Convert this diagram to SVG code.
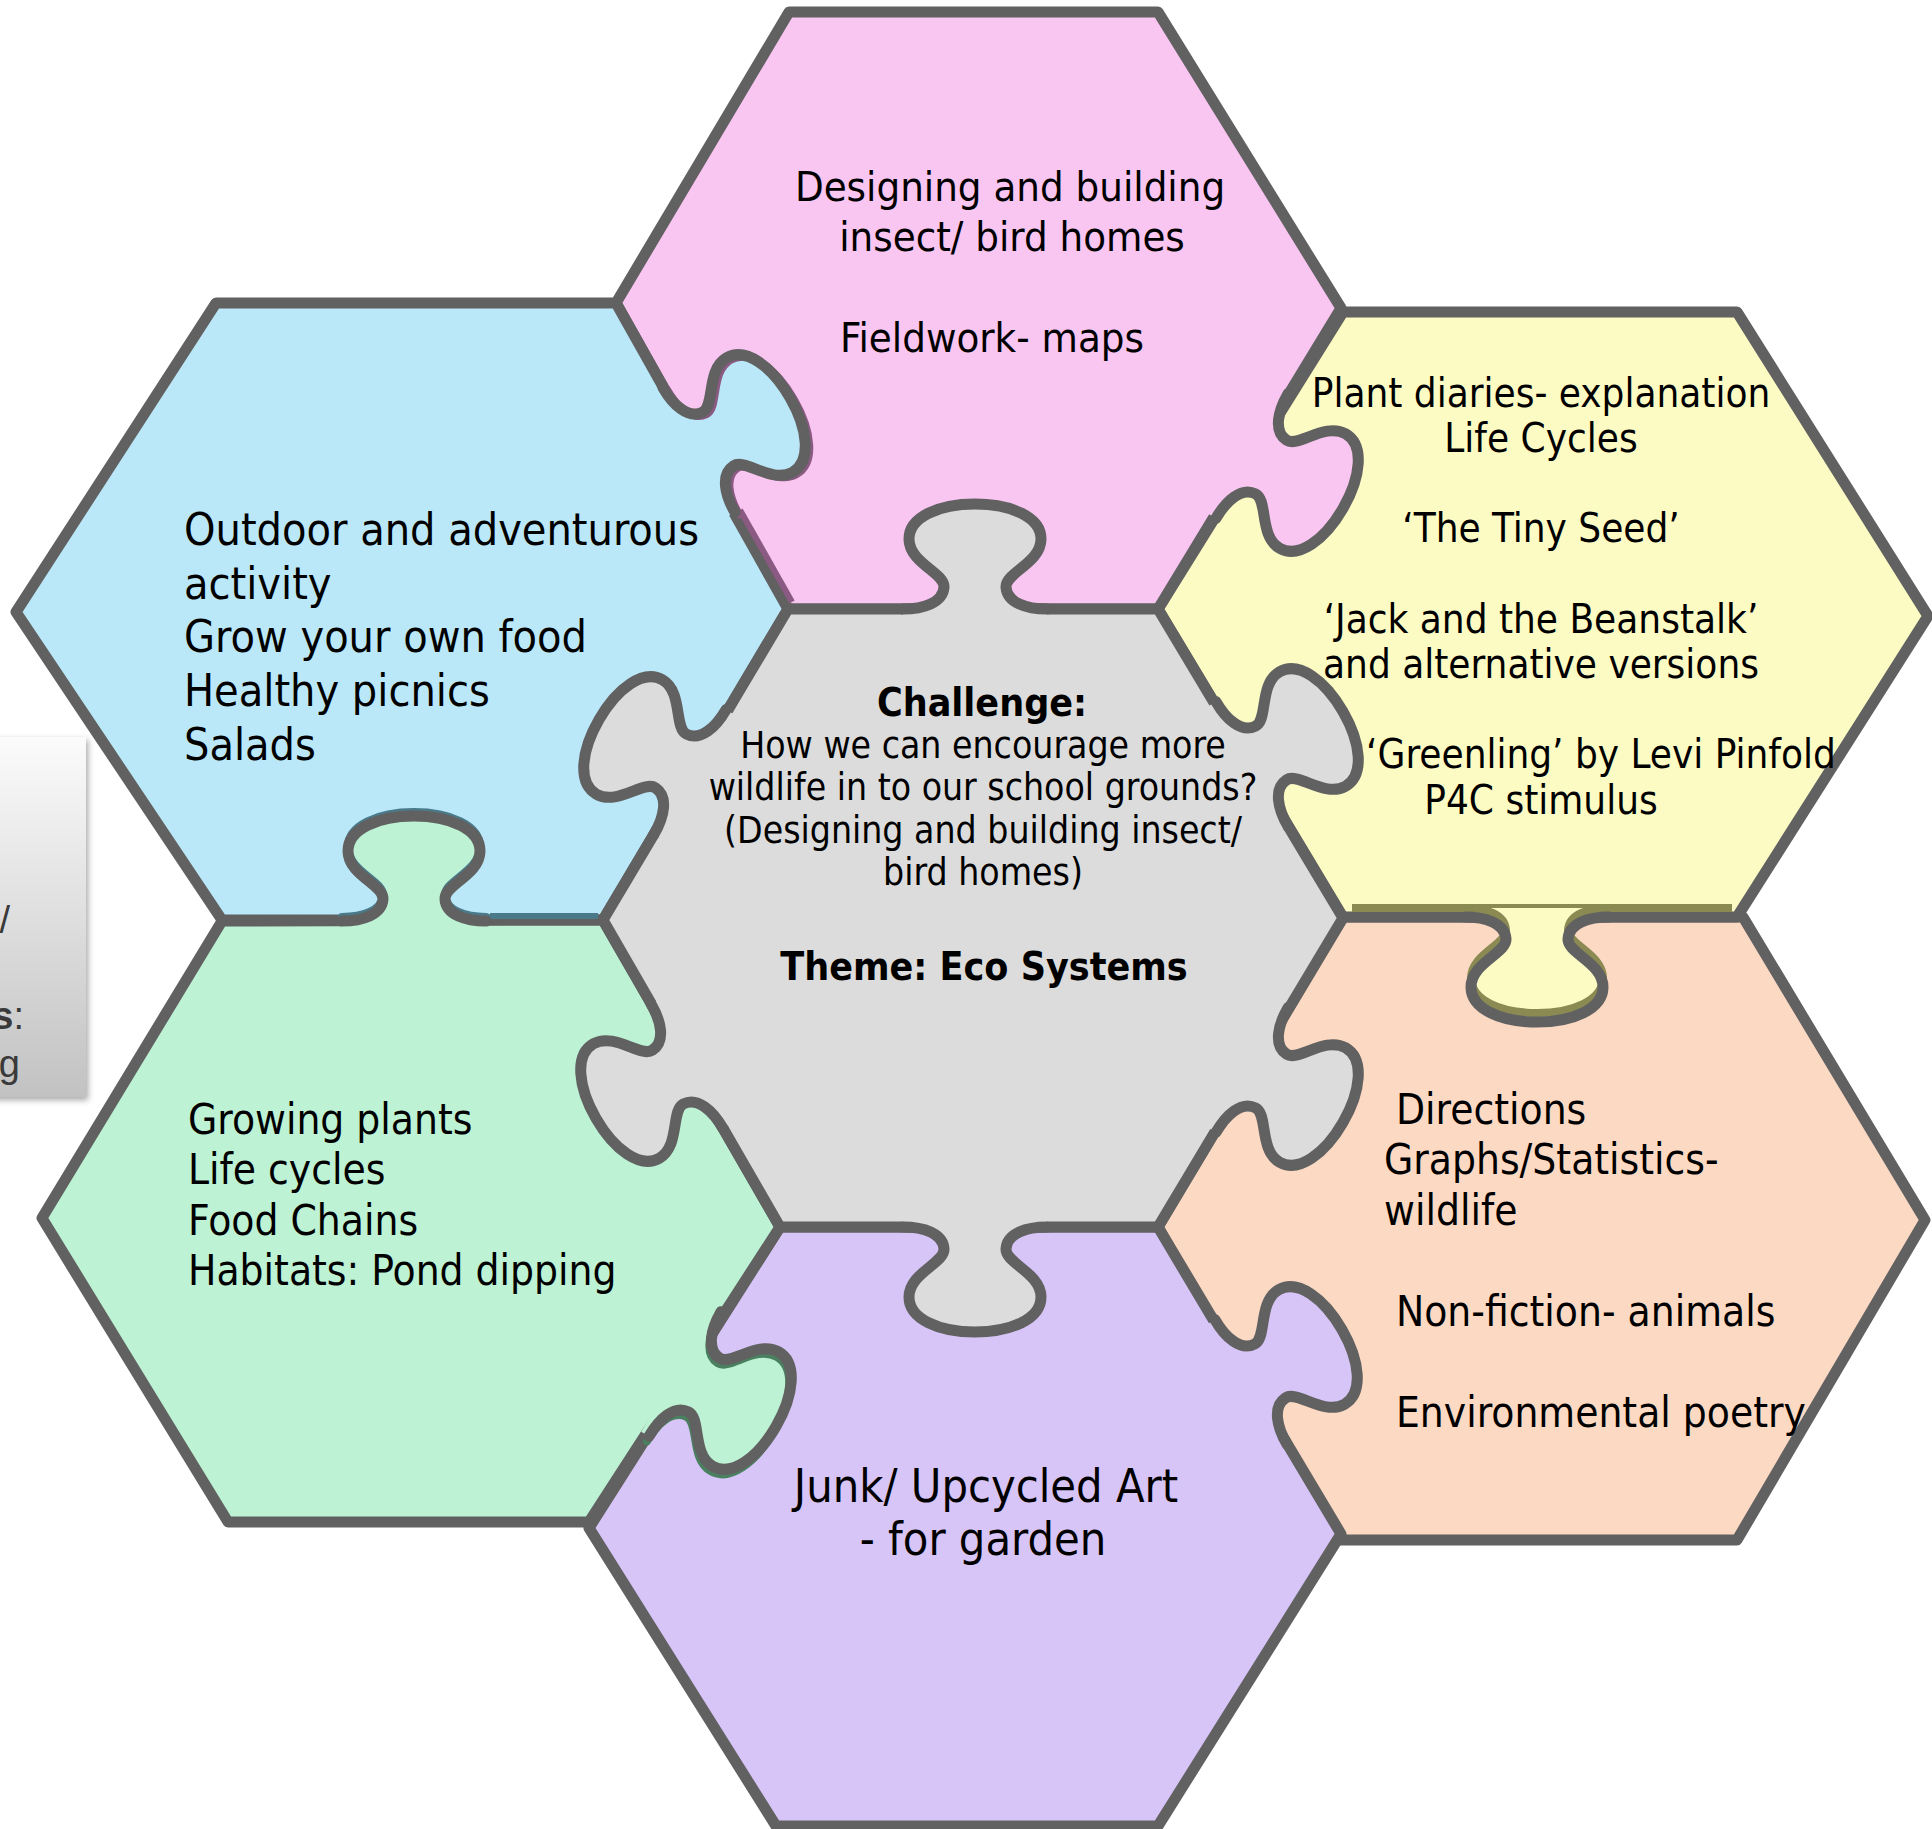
<svg xmlns="http://www.w3.org/2000/svg" xmlns:xlink="http://www.w3.org/1999/xlink" width="1932" height="1829" viewBox="0 0 1932 1829">
<style>
  .hex { stroke: #616161; stroke-width: 11; stroke-linejoin: round; }
  .ks { fill: none; stroke: #616161; stroke-width: 11; stroke-linecap: round; stroke-linejoin: round; }
  .sh { fill: none; stroke-width: 8; stroke-linecap: round; }
  text { font-family: "DejaVu Sans Condensed", "DejaVu Sans", sans-serif; font-stretch: condensed; fill: #000; }
  .side { font-family: "Liberation Sans", Arial, sans-serif; font-stretch: normal; fill: #3a3a3a; font-size: 38px; }
</style>
<defs>
  <linearGradient id="boxg" x1="0" y1="0" x2="0" y2="1">
    <stop offset="0" stop-color="#fbfbfb"/>
    <stop offset="1" stop-color="#c2c2c2"/>
  </linearGradient>
  <filter id="drop" x="-20%" y="-10%" width="140%" height="130%">
    <feDropShadow dx="2" dy="3" stdDeviation="3" flood-color="#000" flood-opacity="0.35"/>
  </filter>
  <path id="kc" d="M -72,0 C -52,0 -32,-6 -31,-22 C -30,-36 -66,-46 -66,-70 C -66,-92 -36,-105 0,-105 C 36,-105 66,-92 66,-70 C 66,-46 30,-36 31,-22 C 32,-6 52,0 72,0"/>
  <path id="kf" d="M -72,0 C -52,0 -32,-6 -31,-22 C -30,-36 -66,-46 -66,-70 C -66,-92 -36,-105 0,-105 C 36,-105 66,-92 66,-70 C 66,-46 30,-36 31,-22 C 32,-6 52,0 72,0 L 72,9 L -72,9 Z"/>
</defs>

<rect width="1932" height="1829" fill="#ffffff"/>

<g id="side-note">
  <rect x="-20" y="737" width="106" height="360" fill="url(#boxg)" filter="url(#drop)"/>
  <text class="side" x="10" y="933" text-anchor="end">/</text>
  <text class="side" x="24" y="1029" text-anchor="end"><tspan font-weight="bold">s</tspan>:</text>
  <text class="side" x="20" y="1077" text-anchor="end">g</text>
</g>

<g id="node-peach">
  <polygon class="hex" fill="#fcd9c3" points="1343,917 1743,917 1925,1220 1737,1540 1337,1540 1158,1227"/>
  <g font-size="42">
    <text x="1396" y="1124">Directions</text>
    <text x="1384" y="1174">Graphs/Statistics-</text>
    <text x="1384" y="1225">wildlife</text>
    <text x="1396" y="1326">Non-fiction- animals</text>
    <text x="1396" y="1427">Environmental poetry</text>
  </g>
</g>

<g id="node-yellow">
  <polygon class="hex" fill="#fdfbc4" points="1343,312 1737,312 1928,616 1737,917 1343,917 1158,609"/>
  <line x1="1352" y1="908" x2="1732" y2="908" stroke="#8b8a52" stroke-width="8"/>
  <use xlink:href="#kf" fill="#fdfbc4" transform="translate(1537,917) rotate(180)"/>
  <use xlink:href="#kc" class="sh" stroke="#8b8a52" transform="translate(1537,908) rotate(180)"/>
  <use xlink:href="#kc" class="ks" transform="translate(1537,917) rotate(180)"/>
  <g font-size="40" text-anchor="middle">
    <text x="1541" y="407">Plant diaries- explanation</text>
    <text x="1541" y="452">Life Cycles</text>
    <text x="1541" y="542">‘The Tiny Seed’</text>
    <text x="1541" y="633">‘Jack and the Beanstalk’</text>
    <text x="1541" y="678">and alternative versions</text>
    <text x="1601" y="768">‘Greenling’ by Levi Pinfold</text>
    <text x="1541" y="814">P4C stimulus</text>
  </g>
</g>

<g id="node-pink">
  <polygon class="hex" fill="#f9c5f1" points="789,12 1158,12 1341,308 1158,609 788,609 616,303"/>
  <use xlink:href="#kf" fill="#f9c5f1" transform="translate(1252,456) rotate(120)"/>
  <use xlink:href="#kc" class="ks" transform="translate(1252,456) rotate(120)"/>
  <g font-size="41.5" text-anchor="middle">
    <text x="1010" y="201">Designing and building</text>
    <text x="1012" y="251">insect/ bird homes</text>
    <text x="992" y="352">Fieldwork- maps</text>
  </g>
</g>

<g id="node-blue">
  <polygon class="hex" fill="#bbe8f8" points="216,303 616,303 788,609 603,920 222,920 16,612"/>
  <line x1="740" y1="510" x2="792" y2="602" stroke="#8a5a82" stroke-width="6"/>
  <use xlink:href="#kf" fill="#bbe8f8" transform="translate(699,450) rotate(60)"/>
  <use xlink:href="#kc" class="sh" stroke="#8a5a82" transform="translate(703,452) rotate(60)"/>
  <use xlink:href="#kc" class="ks" transform="translate(699,450) rotate(60)"/>
  <g font-size="44.5">
    <text x="184" y="545">Outdoor and adventurous</text>
    <text x="184" y="599">activity</text>
    <text x="184" y="652">Grow your own food</text>
    <text x="184" y="706">Healthy picnics</text>
    <text x="184" y="760">Salads</text>
  </g>
</g>

<g id="node-purple">
  <polygon class="hex" fill="#d8c5f7" points="780,1227 1158,1227 1341,1534 1158,1826 776,1826 589,1528"/>
  <use xlink:href="#kf" fill="#d8c5f7" transform="translate(1251,1382) rotate(60)"/>
  <use xlink:href="#kc" class="ks" transform="translate(1251,1382) rotate(60)"/>
  <g font-size="46.5" text-anchor="middle">
    <text x="986" y="1502">Junk/ Upcycled Art</text>
    <text x="983" y="1555">- for garden</text>
  </g>
</g>

<g id="node-green">
  <polygon class="hex" fill="#bdf2d4" points="222,921 603,920 780,1227 589,1522 228,1522 42,1218"/>
  <line x1="490" y1="916" x2="598" y2="916" stroke="#4a7a8a" stroke-width="6"/>
  <use xlink:href="#kf" fill="#bdf2d4" transform="translate(414,921) rotate(0)"/>
  <use xlink:href="#kc" class="sh" stroke="#4a7a8a" transform="translate(414,917) rotate(0)"/>
  <use xlink:href="#kc" class="ks" transform="translate(414,921) rotate(0)"/>
  <use xlink:href="#kf" fill="#bdf2d4" transform="translate(685,1374) rotate(120)"/>
  <use xlink:href="#kc" class="sh" stroke="#4a8060" transform="translate(683,1379) rotate(120)"/>
  <use xlink:href="#kc" class="ks" transform="translate(685,1374) rotate(120)"/>
  <g font-size="42">
    <text x="188" y="1134">Growing plants</text>
    <text x="188" y="1184">Life cycles</text>
    <text x="188" y="1235">Food Chains</text>
    <text x="188" y="1285">Habitats: Pond dipping</text>
  </g>
</g>

<g id="node-grey">
  <polygon class="hex" fill="#dcdcdc" points="788,609 1158,609 1343,918 1158,1227 780,1227 603,920"/>
  <g fill="#dcdcdc">
    <use xlink:href="#kf" transform="translate(975,609) rotate(0)"/>
    <use xlink:href="#kf" transform="translate(1252,764) rotate(60)"/>
    <use xlink:href="#kf" transform="translate(1252,1070) rotate(120)"/>
    <use xlink:href="#kf" transform="translate(975,1227) rotate(180)"/>
    <use xlink:href="#kf" transform="translate(687,1066) rotate(-120)"/>
    <use xlink:href="#kf" transform="translate(690,772) rotate(-60)"/>
  </g>
  <g>
    <use xlink:href="#kc" class="ks" transform="translate(975,609) rotate(0)"/>
    <use xlink:href="#kc" class="ks" transform="translate(1252,764) rotate(60)"/>
    <use xlink:href="#kc" class="ks" transform="translate(1252,1070) rotate(120)"/>
    <use xlink:href="#kc" class="ks" transform="translate(975,1227) rotate(180)"/>
    <use xlink:href="#kc" class="ks" transform="translate(687,1066) rotate(-120)"/>
    <use xlink:href="#kc" class="ks" transform="translate(690,772) rotate(-60)"/>
  </g>
  <g text-anchor="middle">
    <text x="982" y="716" font-size="39" font-weight="bold">Challenge:</text>
    <g font-size="37">
      <text x="983" y="758">How we can encourage more</text>
      <text x="983" y="800">wildlife in to our school grounds?</text>
      <text x="983" y="843">(Designing and building insect/</text>
      <text x="983" y="885">bird homes)</text>
    </g>
    <text x="984" y="980" font-size="39" font-weight="bold">Theme: Eco Systems</text>
  </g>
</g>
</svg>
